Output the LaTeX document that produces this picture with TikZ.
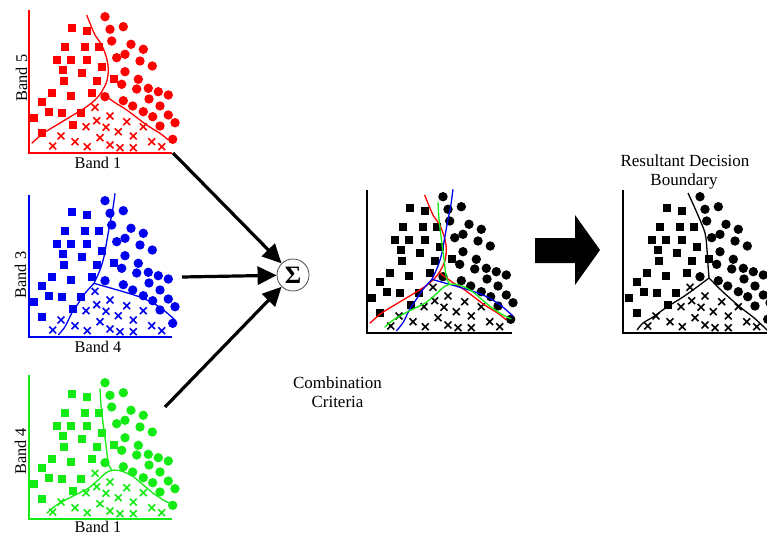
\documentclass[tikz,border=0pt]{standalone}
\usepackage{fontspec}
\setmainfont{Liberation Serif}
\usetikzlibrary{arrows.meta}
\definecolor{pred}{RGB}{255,0,0}
\definecolor{pblue}{RGB}{0,0,240}
\definecolor{pgreen}{RGB}{20,235,20}
\def\SQ{42.7/-124.7, 58.3/-122.3, 36/-106.3, 56/-106.3, 70/-106.3, 27.7/-93, 41.7/-93, 58.3/-93, 33.7/-83, 52.7/-80.3, 72.7/-86.3, 35.3/-72, 67.7/-72, 84.7/-74, 22.7/-59.7, 41.7/-57, 62.7/-60.3, 12.7/-51.3, 20.3/-41.3, 32.7/-39.7, 51.7/-39.7, 5.3/-35.3, 44.3/-28, 12.7/-20.3}
\def\CI{76/-136.3, 81/-123.7, 94.3/-126.3, 82.7/-112, 102/-108.7, 114.3/-103.7, 87.7/-95.3, 96/-98.7, 111/-92, 123.3/-87, 96/-81.3, 92.7/-68.7, 109.3/-73.7, 107.7/-64, 119.3/-64.7, 129.3/-61.3, 139.3/-58, 76/-56.3, 94.3/-52.3, 103.7/-47, 120/-54, 131/-47, 114.3/-41.3, 123.7/-36.3, 139.3/-38, 146/-30.3, 131/-27, 143.7/-13.7}
\def\CR{66/-45.7, 81/-37, 67.7/-32.3, 57/-26.3, 77/-25.7, 97.7/-31.3, 89.3/-21.3, 114.3/-26.3, 32/-17, 46/-11.3, 71/-15.3, 104.3/-17, 23.7/-7, 58.3/-6.3, 81/-8, 91/-5.3, 104.3/-5.3, 122.7/-11.3, 132.7/-6.3}
\def\redA{(57.7,-138) (61,-129.7) (66,-118) (72.7,-108) (77.7,-94.7) (79.3,-83) (77.7,-71.3) (72.7,-61.3) (67.7,-54.7) (57.7,-46.3) (44.3,-38) (27.7,-28) (14.3,-19.7) (2.7,-9.7)}
\def\redB{(73,-60) (85,-51) (97.7,-43) (117.7,-28) (131,-19.7) (139.3,-13)}
\def\blueA{(86,-143.7) (83.7,-127) (81,-113.7) (77.7,-95.3) (75,-80.3) (71,-67) (65,-53.7)}
\def\blueC{(65,-53.7) (56,-43.7) (49.3,-33.7) (42.7,-23.7) (36,-10.3) (29.3,-2)}
\def\blueB{(65,-53.7) (74.3,-51) (94.3,-45.3) (114.3,-38.7) (131,-29.7) (146,-17)}
\def\greenA{(71,-130.7) (72,-114) (74.3,-94) (77,-74) (79.3,-55.7) (82.7,-49)}
\def\greenB{(17.7,-5.7) (27.7,-14) (42.7,-22.3) (59.3,-30.7) (71,-40.7) (77.7,-46.7) (86,-49) (94.3,-47.3) (104.3,-42.3) (114.3,-34) (124.3,-25.7) (134.3,-19) (144.3,-14)}
\def\resA{(64,-140) (73,-120) (81,-100) (83,-83) (84,-68) (85,-55)}
\def\resL{(85,-55) (73,-46) (59,-36) (43,-26) (29,-16) (19,-10) (13,-3)}
\def\resR{(85,-55) (99,-41) (116,-26) (129,-16) (141,-5) (147,1)}
\newcommand\drawdata[1]{%
  \foreach \px/\py in \SQ {\fill[#1] (\px-4,\py-4) rectangle (\px+4,\py+4);}
  \foreach \px/\py in \CI {\fill[#1] (\px,\py) circle[radius=4.7];}
  \foreach \px/\py in \CR {\draw[#1,line width=1.6pt] (\px-3.4,\py-3.4) -- (\px+3.4,\py+3.4) (\px-3.4,\py+3.4) -- (\px+3.4,\py-3.4);}
}
\begin{document}
\begin{tikzpicture}[x=1pt,y=-1pt,
  lbl/.style={font=\fontsize{16.3}{19}\selectfont, inner sep=0pt, anchor=base},
  captxt/.style={font=\fontsize{17}{19}\selectfont, inner sep=0pt, anchor=base},
  bnd/.style={line width=1.3pt},
  axisln/.style={line width=1.3pt},
  baxis/.style={line width=2.4pt},
  flow/.style={line width=3.2pt, -{Triangle[length=19pt,width=18pt]}}]
\useasboundingbox (0,0) rectangle (767,535);

% red plot
\begin{scope}[shift={(29,153)}]
  \drawdata{pred}
  \draw[pred,bnd] plot[smooth] coordinates {\redA};
  \draw[pred,bnd] plot[smooth] coordinates {\redB};
  \draw[pred,axisln] (0,-143) -- (0,0) -- (143,0);
  \coordinate (s1) at (144,0);
\end{scope}
\node[lbl] (rx) at (98,168) {Band 1};
\node[lbl,rotate=90] (ry) at (27,78) {Band 5};

% blue plot
\begin{scope}[shift={(29,337)}]
  \drawdata{pblue}
  \draw[pblue,bnd] plot[smooth] coordinates {\blueA};
  \draw[pblue,bnd] plot[smooth] coordinates {\blueC};
  \draw[pblue,bnd] plot[smooth] coordinates {\blueB};
  \draw[pblue,axisln] (0,-142) -- (0,0) -- (143,0);
\end{scope}
\coordinate (s2) at (182,277);
\node[lbl] (bx) at (98,352) {Band 4};
\node[lbl,rotate=90] (by) at (26,275) {Band 3};

% green plot
\begin{scope}[shift={(29,519)}]
  \drawdata{pgreen}
  \draw[pgreen,bnd] plot[smooth] coordinates {\greenA};
  \draw[pgreen,bnd] plot[smooth] coordinates {\greenB};
  \draw[pgreen,axisln] (0,-144) -- (0,0) -- (143,0);
\end{scope}
\coordinate (s3) at (165,407);
\node[lbl] (gx) at (98,532) {Band 1};
\node[lbl,rotate=90] (gy) at (26,451.5) {Band 4};

% combination
\node[circle, draw=black!70, line width=0.8pt, minimum size=32pt, inner sep=0pt] (sig) at (293,275)
  {\fontsize{25}{25}\selectfont\bfseries Σ};
\draw[flow] (s1) -- (sig);
\draw[flow] (s2) -- (sig);
\draw[flow] (s3) -- (sig);
\node[captxt] (cc1) at (337.5,388) {Combination};
\node[captxt] (cc2) at (337.5,407) {Criteria};

% combined plot
\begin{scope}[shift={(367,333)}]
  \drawdata{black}
  \draw[pred,bnd] plot[smooth] coordinates {\redA};
  \draw[pred,bnd] plot[smooth] coordinates {\redB};
  \draw[pblue,bnd] plot[smooth] coordinates {\blueA};
  \draw[pblue,bnd] plot[smooth] coordinates {\blueC};
  \draw[pblue,bnd] plot[smooth] coordinates {\blueB};
  \draw[pgreen,bnd] plot[smooth] coordinates {\greenA};
  \draw[pgreen,bnd] plot[smooth] coordinates {\greenB};
  \draw[black,baxis] (0,-143) -- (0,0) -- (145,0);
\end{scope}

% big arrow
\fill[black] (535,238) -- (575,238) -- (575,215) -- (600,250) -- (575,285) -- (575,263) -- (535,263) -- cycle;

% result plot
\begin{scope}[shift={(624,333)}]
  \drawdata{black}
  \draw[black,bnd] plot[smooth] coordinates {\resA};
  \draw[black,bnd] plot[smooth] coordinates {\resL};
  \draw[black,bnd] plot[smooth] coordinates {\resR};
  \draw[black,baxis] (-1,-143) -- (-1,0) -- (160,0);
\end{scope}
\node[captxt] (rt1) at (685,166.7) {Resultant Decision};
\node[captxt] (rt2) at (684,185) {Boundary};
\end{tikzpicture}
\end{document}
